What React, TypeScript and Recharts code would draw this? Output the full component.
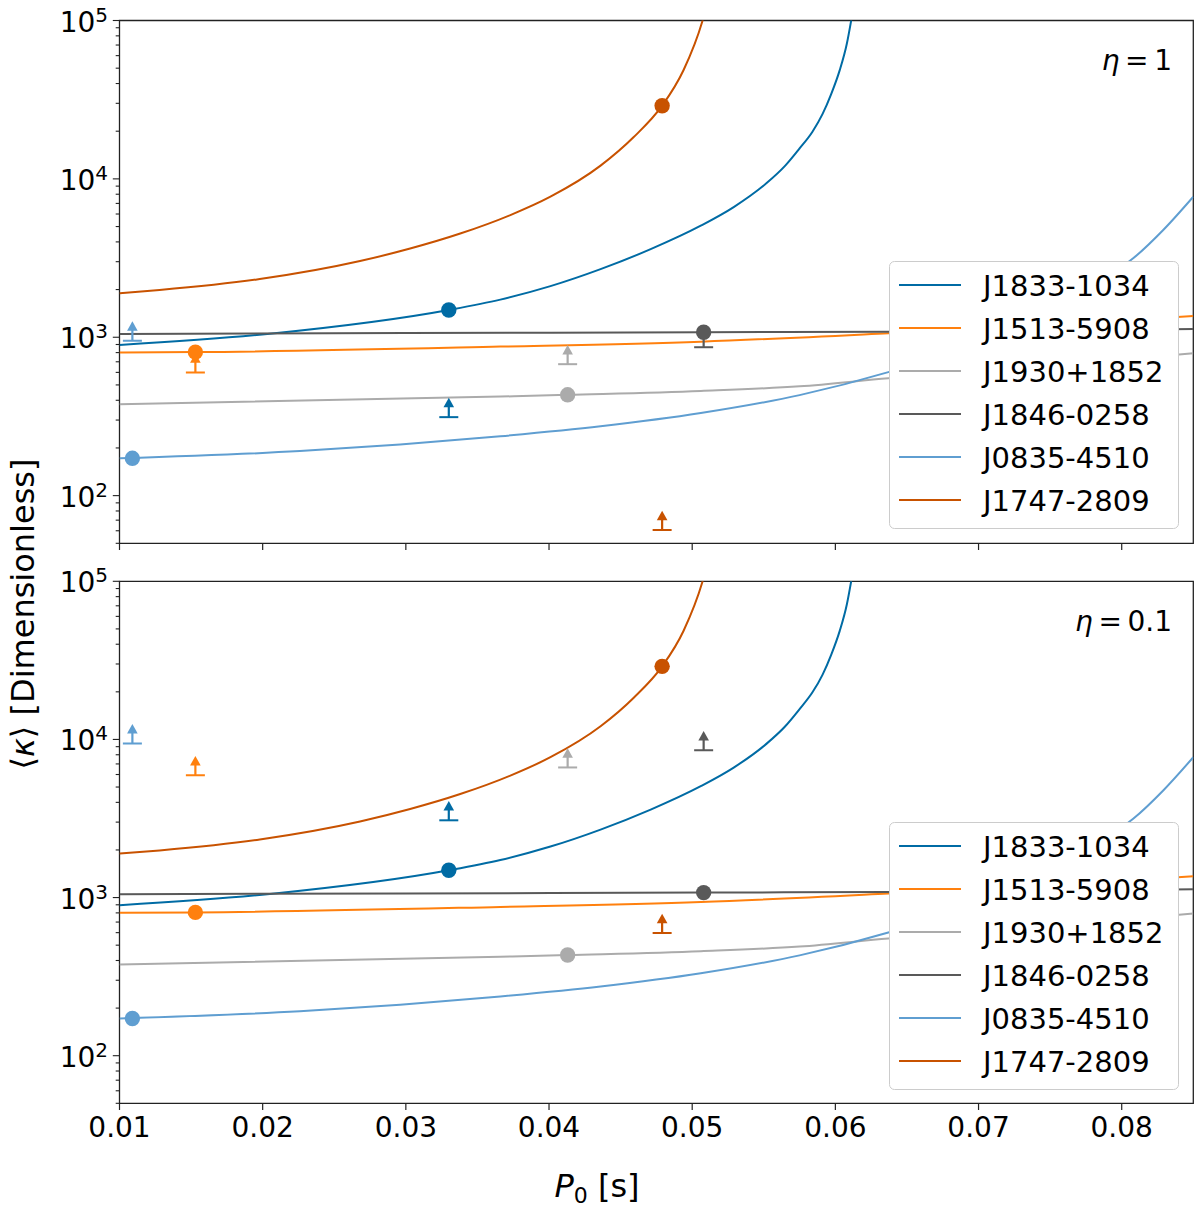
import React from 'react';
import { ComposedChart, Line, Scatter, XAxis, YAxis, ReferenceArea, Legend } from 'recharts';

const font = 'DejaVu Sans';
const axisColor = '#222222';

const names = ['J1833-1034', 'J1513-5908', 'J1930+1852', 'J1846-0258', 'J0835-4510', 'J1747-2809'];
const colors = ['#006BA4', '#FF800E', '#ABABAB', '#595959', '#5F9ED1', '#C85200'];

// [P0 (s), <kappa>]
const curveJ1833 = [
  [0.01, 894], [0.0205, 1053], [0.033, 1487], [0.0366, 1728], [0.0401, 2102], [0.0436, 2691],
  [0.0471, 3600], [0.0506, 5063], [0.0529, 6637], [0.0552, 9408], [0.0565, 12120], [0.0575, 15560],
  [0.0584, 19860], [0.0591, 25620], [0.0597, 34170], [0.0603, 48420], [0.0608, 71280], [0.0611, 99560],
  [0.0615, 165100],
];
const curveJ1513 = [
  [0.01, 802], [0.0153, 806], [0.0366, 873], [0.0506, 938], [0.0637, 1060], [0.0715, 1151],
  [0.078, 1242], [0.085, 1362],
];
const curveJ1930 = [
  [0.01, 378], [0.0366, 422], [0.0413, 433], [0.0506, 458], [0.0575, 490], [0.0637, 551],
  [0.0715, 624], [0.078, 697], [0.085, 793],
];
const curveJ1846 = [
  [0.01, 1050], [0.03, 1062], [0.0508, 1075], [0.0637, 1085], [0.075, 1103], [0.085, 1128],
];
const curveJ0835 = [
  [0.01, 172], [0.0226, 191], [0.0296, 210], [0.0366, 237], [0.0436, 274], [0.0506, 332],
  [0.0575, 431], [0.0637, 602], [0.068, 802], [0.0715, 1049], [0.075, 1466], [0.0785, 2267],
  [0.0808, 3149], [0.0829, 4758], [0.085, 7720],
];
const curveJ1747 = [
  [0.01, 1896], [0.0128, 1987], [0.0198, 2330], [0.0268, 3028], [0.0303, 3631], [0.0338, 4515],
  [0.0373, 5908], [0.0401, 7720], [0.0436, 12120], [0.0459, 18300], [0.0479, 28980], [0.0494, 48700],
  [0.0507, 98300], [0.0513, 158000],
];
const curves = [curveJ1833, curveJ1513, curveJ1930, curveJ1846, curveJ0835, curveJ1747];

// estimated P0 and kappa for each pulsar
const dotP0 = [0.033, 0.0153, 0.0413, 0.0508, 0.0109, 0.0479];
const dotKappa = [1487, 806, 433, 1075, 172, 28980];

// lower limits
const limitEta1 = [313, 598, 676, 865, 952, 60.7];
const limitEta01 = [3080, 5940, 6650, 8550, 9440, 597];

const xTicks = [0.01, 0.02, 0.03, 0.04, 0.05, 0.06, 0.07, 0.08];
const xTickLabels = ['0.01', '0.02', '0.03', '0.04', '0.05', '0.06', '0.07', '0.08'];
const yMajor = [100, 1000, 10000, 100000];
const yMajorExp = ['2', '3', '4', '5'];
const yMinor = [
  50, 60, 70, 80, 90,
  200, 300, 400, 500, 600, 700, 800, 900,
  2000, 3000, 4000, 5000, 6000, 7000, 8000, 9000,
  20000, 30000, 40000, 50000, 60000, 70000, 80000, 90000,
];
const yTicks = [...yMinor, ...yMajor].sort((a, b) => a - b);

const XTick = (props: any) => {
  const { x, y, payload, showLabel } = props;
  const i = xTicks.indexOf(payload.value);
  return (
    <g>
      <line x1={x} x2={x} y1={y} y2={y + 6.7} stroke={axisColor} strokeWidth={1.2} />
      {showLabel && (
        <text x={x} y={y + 34} textAnchor="middle" fontSize={28} fontFamily={font} fill="#000">
          {xTickLabels[i]}
        </text>
      )}
    </g>
  );
};

const YTick = (props: any) => {
  const { x, y, payload } = props;
  const m = yMajor.indexOf(payload.value);
  const major = m >= 0;
  return (
    <g>
      <line x1={x - (major ? 6.7 : 3.8)} x2={x} y1={y} y2={y} stroke={axisColor} strokeWidth={1.1} />
      {major && (
        <text x={x - 11.5} y={y + 11} textAnchor="end" fontSize={28} fontFamily={font} fill="#000">
          10
          <tspan dy={-10} fontSize={20}>
            {yMajorExp[m]}
          </tspan>
        </text>
      )}
    </g>
  );
};

const arrowShape = (color: string) => (props: any) => {
  const { cx, cy } = props;
  return (
    <g>
      <line x1={cx - 9.5} x2={cx + 9.5} y1={cy} y2={cy} stroke={color} strokeWidth={2} />
      <line x1={cx} x2={cx} y1={cy} y2={cy - 11} stroke={color} strokeWidth={2.2} />
      <polygon points={`${cx - 5.3},${cy - 9.8} ${cx + 5.3},${cy - 9.8} ${cx},${cy - 19.3}`} fill={color} />
    </g>
  );
};

const dotShape = (color: string) => (props: any) => <circle cx={props.cx} cy={props.cy} r={7.7} fill={color} />;

const LegendBox = () => (
  <svg width={290} height={268} style={{ display: 'block' }}>
    <rect x={0.5} y={0.5} width={289} height={267} rx={5} fill="#ffffff" stroke="#cccccc" />
    {names.map((name, i) => (
      <g key={name}>
        <line x1={10} x2={72} y1={24 + i * 43} y2={24 + i * 43} stroke={colors[i]} strokeWidth={2} />
        <text x={94} y={24 + i * 43 + 10.5} fontSize={29} fontFamily={font} fill="#000">
          {name}
        </text>
      </g>
    ))}
  </svg>
);

interface PanelProps {
  height: number;
  marginTop: number;
  axisHeight: number;
  limits: number[];
  legendTop: number;
  showXLabels: boolean;
}

const Panel: React.FC<PanelProps> = ({ height, marginTop, axisHeight, limits, legendTop, showXLabels }) => (
  <ComposedChart width={1200} height={height} margin={{ top: marginTop, right: 6.7, bottom: 0, left: 0 }}>
    <XAxis
      type="number"
      dataKey="x"
      domain={[0.01, 0.085]}
      allowDataOverflow
      ticks={xTicks}
      interval={0}
      height={axisHeight}
      axisLine={false}
      tickLine={false}
      tickSize={0}
      tickMargin={0}
      tick={(p: any) => <XTick {...p} showLabel={showXLabels} />}
    />
    <YAxis
      type="number"
      dataKey="y"
      scale="log"
      domain={[50, 100000]}
      allowDataOverflow
      ticks={yTicks}
      interval={0}
      width={119.5}
      axisLine={false}
      tickLine={false}
      tickSize={0}
      tickMargin={0}
      tick={(p: any) => <YTick {...p} />}
    />
    <ReferenceArea x1={0.01} x2={0.085} y1={50} y2={100000} fill="none" stroke={axisColor} strokeWidth={1.3} />
    {curves.map((c, i) => (
      <Line
        key={names[i]}
        data={c.map(([x, y]) => ({ x, y }))}
        dataKey="y"
        type="monotone"
        stroke={colors[i]}
        strokeWidth={2}
        dot={false}
        activeDot={false}
        isAnimationActive={false}
      />
    ))}
    {names.map((n, i) => (
      <Scatter
        key={'lim' + n}
        data={[{ x: dotP0[i], y: limits[i] }]}
        shape={arrowShape(colors[i])}
        isAnimationActive={false}
      />
    ))}
    {names.map((n, i) => (
      <Scatter
        key={'dot' + n}
        data={[{ x: dotP0[i], y: dotKappa[i] }]}
        shape={dotShape(colors[i])}
        isAnimationActive={false}
      />
    ))}
    <Legend
      layout="vertical"
      align="center"
      verticalAlign="middle"
      wrapperStyle={{ left: 889, top: legendTop, width: 290, height: 268 }}
      content={() => <LegendBox />}
    />
  </ComposedChart>
);

export default function App() {
  return (
    <div style={{ position: 'absolute', left: 0, top: 0, width: 1200, height: 1212, background: '#fff', fontFamily: font }}>
      <div style={{ position: 'absolute', left: 0, top: 0 }}>
        <Panel height={560} marginTop={20.5} axisHeight={16.7} limits={limitEta1} legendTop={261} showXLabels={false} />
      </div>
      <div style={{ position: 'absolute', left: 0, top: 560 }}>
        <Panel height={652} marginTop={21.3} axisHeight={108.7} limits={limitEta01} legendTop={262} showXLabels />
      </div>
      <svg
        width={1200}
        height={1212}
        style={{ position: 'absolute', left: 0, top: 0, pointerEvents: 'none' }}
        fontFamily={font}
      >
        <text x={1172} y={70} textAnchor="end" fontSize={28} fill="#000">
          <tspan fontStyle="italic">η</tspan>{'\u2009=\u20091'}
        </text>
        <text x={1172} y={631} textAnchor="end" fontSize={28} fill="#000">
          <tspan fontStyle="italic">η</tspan>{'\u2009=\u20090.1'}
        </text>
        <text x={597} y={1197} textAnchor="middle" fontSize={32} fill="#000">
          <tspan fontStyle="italic">P</tspan>
          <tspan fontSize={22} dy={6}>0</tspan>
          <tspan dy={-6}> [s]</tspan>
        </text>
        <text transform="translate(34,614) rotate(-90)" textAnchor="middle" fontSize={32} fill="#000">
          ⟨<tspan fontStyle="italic">κ</tspan>⟩ [Dimensionless]
        </text>
      </svg>
    </div>
  );
}
